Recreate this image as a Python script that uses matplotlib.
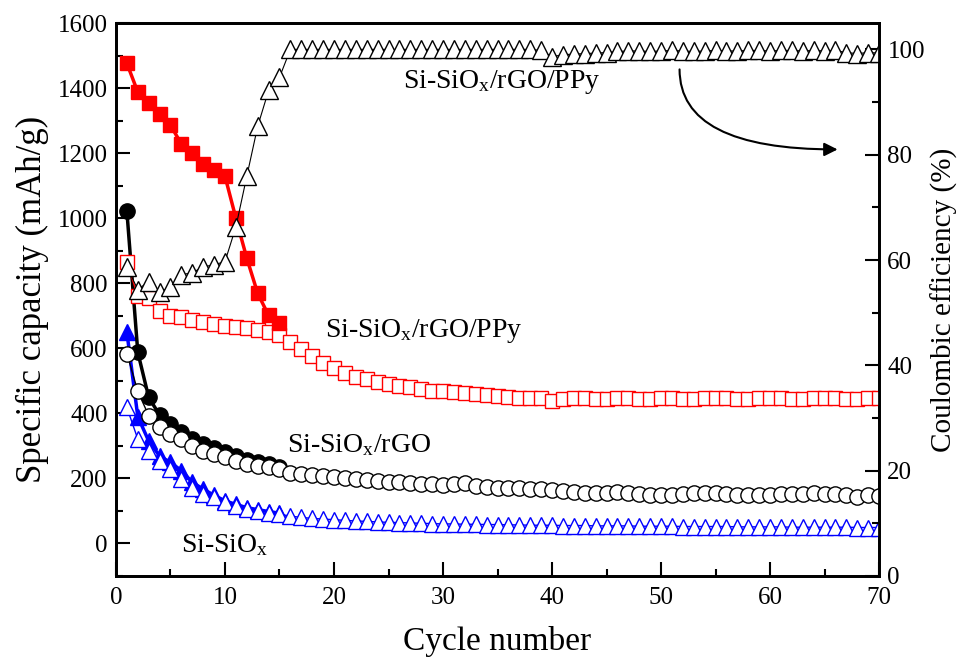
import matplotlib
matplotlib.use("Agg")
import matplotlib.pyplot as plt
from matplotlib.ticker import MultipleLocator

plt.rcParams['font.family'] = ['Liberation Serif', 'DejaVu Serif']
plt.rcParams['mathtext.fontset'] = 'custom'
plt.rcParams['mathtext.rm'] = 'Liberation Serif'
plt.rcParams['mathtext.it'] = 'Liberation Serif'

# ---------------- data ----------------
cyc15 = list(range(1, 16))
cyc70 = list(range(1, 71))

# Si-SiOx/rGO/PPy
ppy_dis = [1476, 1388, 1354, 1320, 1286, 1228, 1200, 1166, 1148, 1129,
           1000, 877, 769, 701, 677]
ppy_chg = [864, 760, 755, 716, 700, 695, 688, 680, 675, 670,
           665, 662, 657, 650, 640, 620, 598, 575, 555, 538,
           523, 512, 505, 496, 490, 485, 480, 475, 470, 468,
           465, 462, 460, 456, 453, 450, 448, 447, 446, 438,
           445, 446, 446, 445, 445, 446, 446, 445, 445, 446,
           446, 445, 445, 446, 446, 446, 445, 445, 446, 446,
           446, 445, 445, 446, 446, 446, 445, 445, 446, 446]
ppy_ce = [58.7, 54.4, 55.9, 54.0, 54.8, 57.2, 57.6, 58.7, 59.1, 59.7,
          66.3, 75.9, 85.4, 92.2, 94.7, 100.0, 100.0, 100.0, 100.0, 100.0,
          100.0, 100.0, 100.0, 100.0, 100.0, 100.0, 100.0, 100.0, 100.0, 100.0,
          100.0, 100.0, 100.0, 100.0, 100.0, 100.0, 100.0, 100.0, 99.8, 98.6,
          99.0, 99.1, 99.2, 99.3, 99.4, 99.6, 99.7, 99.7, 99.6, 99.7,
          99.8, 99.7, 99.6, 99.7, 99.8, 99.7, 99.7, 99.8, 99.8, 99.7,
          99.8, 99.8, 99.7, 99.8, 99.7, 99.8, 99.4, 99.2, 99.4, 99.3]

# Si-SiOx/rGO
rgo_dis = [1021, 588, 449, 395, 368, 343, 320, 305, 292, 280,
           268, 258, 250, 243, 236]
rgo_chg = [584, 468, 393, 357, 337, 321, 301, 285, 275, 265,
           254, 244, 239, 234, 229, 218, 213, 210, 206, 203,
           200, 198, 195, 193, 190, 188, 186, 184, 182, 180,
           182, 185, 178, 175, 172, 170, 170, 168, 166, 163,
           160, 158, 156, 155, 156, 157, 156, 153, 150, 148,
           150, 152, 154, 155, 154, 153, 150, 149, 149, 150,
           151, 152, 153, 154, 153, 152, 149, 142, 148, 147]

# Si-SiOx
si_dis = [649, 390, 315, 269, 249, 224, 188, 167, 148, 131,
          120, 110, 104, 98, 93]
si_chg = [418, 321, 285, 254, 229, 198, 172, 152, 142, 126,
          116, 106, 101, 95, 90, 84, 80, 77, 75, 73,
          71, 69, 68, 66, 65, 64, 63, 62, 61, 60,
          60, 59, 59, 58, 58, 57, 57, 56, 56, 56,
          55, 55, 55, 54, 54, 54, 54, 53, 53, 53,
          53, 52, 52, 52, 52, 52, 51, 51, 51, 51,
          51, 50, 50, 50, 50, 50, 50, 49, 49, 49]

# ---------------- figure ----------------
fig = plt.figure(figsize=(9.61, 6.59), dpi=100)
ax1 = fig.add_axes([0.1207, 0.126, 0.794, 0.839])
ax2 = ax1.twinx()

red = '#ff0000'
blue = '#0000ff'

ax1.plot(cyc15, si_dis, '-^', color=blue, lw=2.5, ms=12, mfc=blue, mec=blue, zorder=2)
ax1.plot(cyc70, si_chg, '-^', color=blue, lw=1.0, ms=12, mfc='white', mec=blue, mew=1.0, zorder=3)
ax1.plot(cyc15, rgo_dis, '-o', color='black', lw=2.5, ms=11, mfc='black', zorder=3)
ax1.plot(cyc70, rgo_chg, '-o', color='black', lw=1.0, ms=11, mfc='white', mec='black', mew=1.0, zorder=4)
ax1.plot(cyc70, ppy_chg, '-s', color=red, lw=1.0, ms=10.5, mfc='white', mec=red, mew=1.0, zorder=4)
ax1.plot(cyc15, ppy_dis, '-s', color=red, lw=2.5, ms=10.5, mfc=red, mec=red, zorder=5)

ax2.plot(cyc70, ppy_ce, '-^', color='black', lw=0.8, ms=13, mfc='white', mec='black', mew=1.0)

ax1.set_xlim(0, 70)
ax1.set_ylim(-100, 1600)
ax2.set_ylim(0, 105)

ax1.xaxis.set_major_locator(MultipleLocator(10))
ax1.xaxis.set_minor_locator(MultipleLocator(5))
ax1.yaxis.set_major_locator(MultipleLocator(200))
ax1.yaxis.set_minor_locator(MultipleLocator(100))
ax2.yaxis.set_major_locator(MultipleLocator(20))
ax2.yaxis.set_minor_locator(MultipleLocator(10))

for ax in (ax1, ax2):
    ax.tick_params(which='major', direction='in', length=10, width=1.5, labelsize=18)
    ax.tick_params(which='minor', direction='in', length=5, width=1.5)
    for sp in ax.spines.values():
        sp.set_linewidth(2)
ax1.tick_params(axis='x', pad=8)
ax1.tick_params(axis='y', pad=6)
ax2.tick_params(axis='y', pad=6)

ax1.set_xlabel('Cycle number', fontsize=24, labelpad=12)
ax1.set_ylabel('Specific capacity (mAh/g)', fontsize=25, labelpad=6)
ax2.set_ylabel('Coulombic efficiency (%)', fontsize=21, labelpad=4)

ax1.text(26.3, 1400, 'Si-SiO$_\\mathregular{x}$/rGO/PPy', fontsize=20, va='baseline', zorder=6)
ax1.text(19.2, 634, 'Si-SiO$_\\mathregular{x}$/rGO/PPy', fontsize=20, va='baseline', zorder=6)
ax1.text(15.7, 280, 'Si-SiO$_\\mathregular{x}$/rGO', fontsize=20, va='baseline', zorder=6)
ax1.text(6.0, -28, 'Si-SiO$_\\mathregular{x}$', fontsize=20, va='baseline', zorder=6)

ax2.annotate('', xy=(66.2, 81), xytext=(51.7, 96.2),
             arrowprops=dict(arrowstyle='-|>', color='black', lw=1.5,
                             connectionstyle='angle3,angleA=-90,angleB=0',
                             mutation_scale=20, shrinkA=0, shrinkB=0))

fig.savefig('out.png', dpi=100)
